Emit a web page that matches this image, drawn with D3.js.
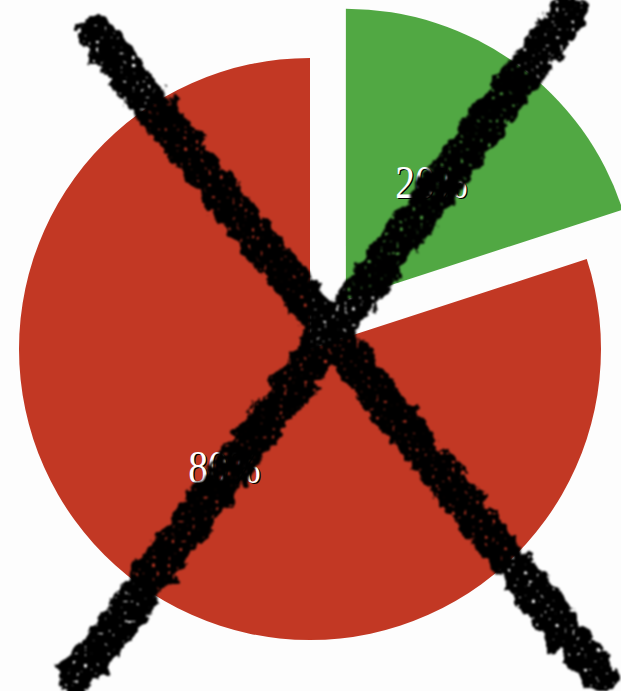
<!DOCTYPE html>
<html>
<head>
<meta charset="utf-8">
<script src="https://cdn.jsdelivr.net/npm/d3@7"></script>
<style>
  html, body { margin: 0; padding: 0; background: #fdfdfd; }
  svg { display: block; }
  .lbl { font-family: "Liberation Serif", "Times New Roman", serif; font-size: 46px; }
</style>
</head>
<body>
<svg id="chart" width="621" height="691"></svg>
<script>
// ---- data ----
const categories = ["Green", "Red"];
const values = [20, 80];
const labels = ["20%", "80%"];
const colors = ["#51a843", "#c23824"];
const exploded = [true, false];

// ---- layout ----
const W = 621, H = 691;
const cx = 310, cy = 349, R = 291, explodeDist = 61;

const svg = d3.select("#chart");
const defs = svg.append("defs");

// rough brush filter for the crossing strokes
const f = defs.append("filter").attr("id", "rough")
  .attr("x", "-10%").attr("y", "-10%").attr("width", "120%").attr("height", "120%");
f.append("feTurbulence").attr("type", "fractalNoise").attr("baseFrequency", "0.07")
  .attr("numOctaves", 3).attr("seed", 4).attr("result", "noise");
f.append("feDisplacementMap").attr("in", "SourceGraphic").attr("in2", "noise")
  .attr("scale", 20).attr("xChannelSelector", "R").attr("yChannelSelector", "G").attr("result", "disp");
f.append("feTurbulence").attr("type", "fractalNoise").attr("baseFrequency", "0.25")
  .attr("numOctaves", 1).attr("seed", 9).attr("result", "speck");
f.append("feColorMatrix").attr("in", "speck").attr("type", "matrix")
  .attr("values", "0 0 0 0 0  0 0 0 0 0  0 0 0 0 0  0 0 0 25 -17").attr("result", "holes");
f.append("feComposite").attr("in", "disp").attr("in2", "holes").attr("operator", "out").attr("result", "holed");
f.append("feGaussianBlur").attr("in", "holed").attr("stdDeviation", 0.8);

const pie = d3.pie().sort(null).value(d => d);
const arcs = pie(values);
const arc = d3.arc().innerRadius(0).outerRadius(R);

const g = svg.append("g").attr("transform", `translate(${cx},${cy})`);

const slices = g.selectAll("g.slice").data(arcs).join("g")
  .attr("class", "slice")
  .attr("transform", (d, i) => {
    if (!exploded[i]) return null;
    const a = (d.startAngle + d.endAngle) / 2;
    return `translate(${Math.sin(a) * explodeDist},${-Math.cos(a) * explodeDist})`;
  });

slices.append("path")
  .attr("d", arc)
  .attr("fill", (d, i) => colors[i]);

function addLabel(sel, dx, fill) {
  sel.append("text")
    .attr("class", "lbl")
    .attr("transform", d => { const c = arc.centroid(d); return `translate(${c[0] + dx},${c[1] + dx}) scale(0.86,1)`; })
    .attr("text-anchor", "middle").attr("dy", "0.35em")
    .attr("fill", fill)
    .text((d, i) => labels[i]);
}
addLabel(slices, 1.3, "#000");
addLabel(slices, 0, "#fff");

// ---- crossing strokes ----
const crossLines = [
  [[96, 34], [600, 676]],
  [[568, 12], [78, 676]]
];
svg.append("g").attr("filter", "url(#rough)")
  .selectAll("path").data(crossLines).join("path")
  .attr("d", d => d3.line()(d))
  .attr("stroke", "#000").attr("stroke-width", 38)
  .attr("stroke-linecap", "round").attr("fill", "none");
</script>
</body>
</html>
